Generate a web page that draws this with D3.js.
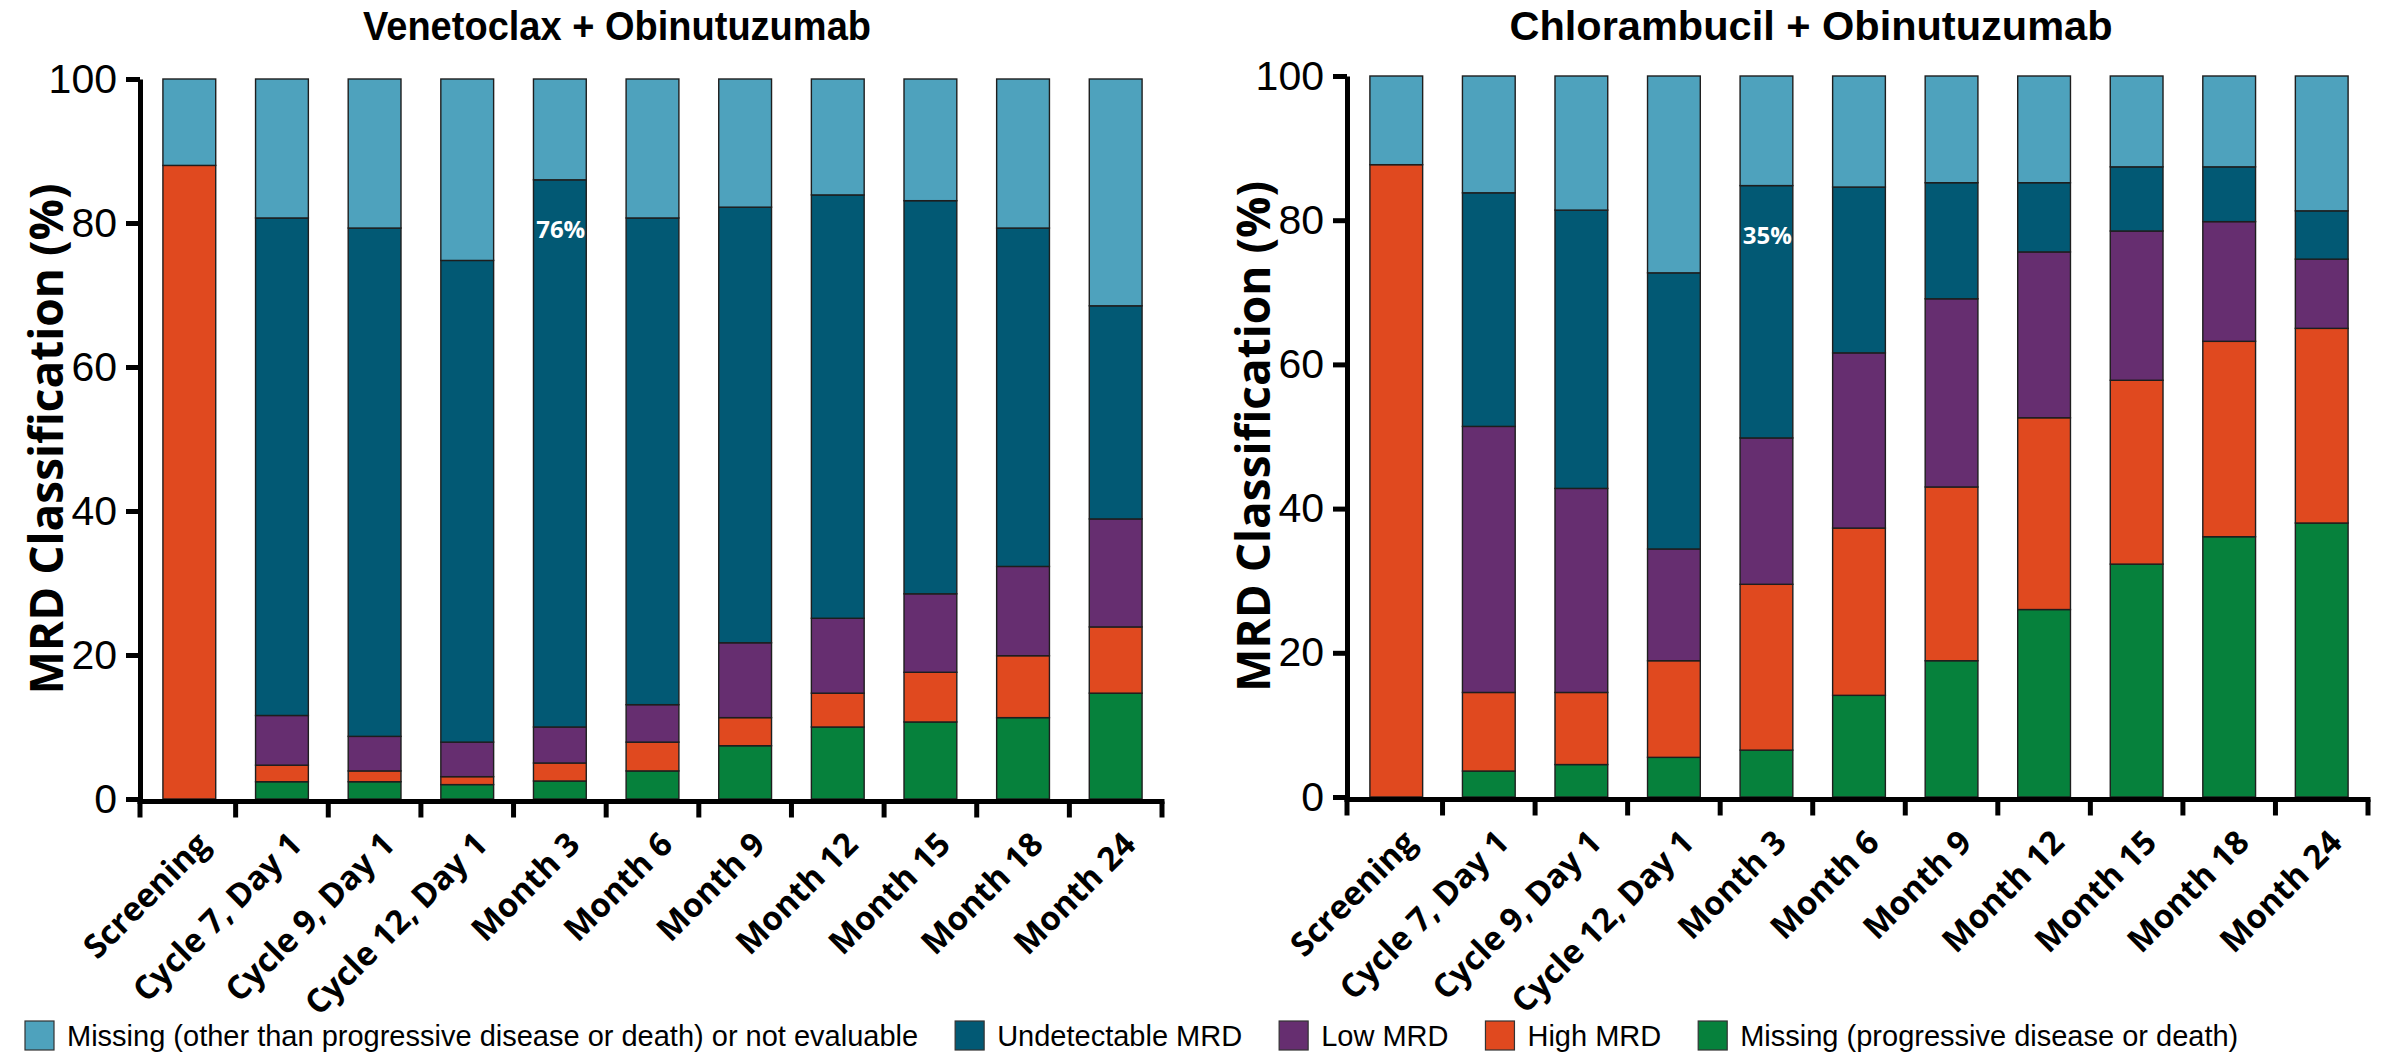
<!DOCTYPE html>
<html>
<head>
<meta charset="utf-8">
<script src="https://cdn.jsdelivr.net/npm/d3@7"></script>
<style>
  html, body { margin: 0; padding: 0; background: #ffffff; }
  svg { display: block; }
</style>
</head>
<body>
<svg id="chart" width="2387" height="1054"></svg>
<script>
// ---- data -------------------------------------------------------------
const categories = [
  "Screening", "Cycle 7, Day 1", "Cycle 9, Day 1", "Cycle 12, Day 1",
  "Month 3", "Month 6", "Month 9", "Month 12", "Month 15", "Month 18", "Month 24"
];
const yTickValues = [0, 20, 40, 60, 80, 100];

// Venetoclax + Obinutuzumab, % of patients per MRD class
const venMissingPD     = [0,    2.4,  2.4,  2.0,  2.5,  3.9,  7.4, 10.0, 10.7, 11.3, 14.7];
const venHighMRD       = [88.0, 2.3,  1.5,  1.1,  2.5,  4.0,  3.9,  4.7,  6.9,  8.6,  9.2];
const venLowMRD        = [0,    6.9,  4.8,  4.8,  5.0,  5.2, 10.4, 10.4, 10.9, 12.4, 15.0];
const venUndetectable  = [0,   69.1, 70.6, 66.9, 76.0, 67.6, 60.5, 58.8, 54.6, 47.0, 29.6];
const venMissingOther  = [12.0,19.3, 20.7, 25.2, 14.0, 19.3, 17.8, 16.1, 16.9, 20.7, 31.5];

// Chlorambucil + Obinutuzumab, % of patients per MRD class
const clbMissingPD     = [0,    3.6,  4.5,  5.5,  6.5, 14.1, 18.9, 26.0, 32.3, 36.1, 38.0];
const clbHighMRD       = [87.7,10.9, 10.0, 13.4, 23.0, 23.2, 24.1, 26.6, 25.5, 27.1, 27.0];
const clbLowMRD        = [0,   36.9, 28.3, 15.5, 20.3, 24.3, 26.1, 23.0, 20.7, 16.6,  9.6];
const clbUndetectable  = [0,   32.4, 38.6, 38.3, 35.0, 23.0, 16.1,  9.6,  8.9,  7.6,  6.7];
const clbMissingOther  = [12.3,16.2, 18.6, 27.3, 15.2, 15.4, 14.8, 14.8, 12.6, 12.6, 18.7];

// stacking order, bottom to top
const stackKeys = ["missingPD", "high", "low", "undetectable", "missingOther"];
// legend order, left to right
const legendKeys = ["missingOther", "undetectable", "low", "high", "missingPD"];
const legendLabels = {
  missingOther: "Missing (other than progressive disease or death) or not evaluable",
  undetectable: "Undetectable MRD",
  low: "Low MRD",
  high: "High MRD",
  missingPD: "Missing (progressive disease or death)"
};
const colors = {
  missingOther: "#4ea2bd",
  undetectable: "#025974",
  low: "#662e70",
  high: "#e0491f",
  missingPD: "#06813c"
};
const annotatedCategory = "Month 3";

// ---- layout -----------------------------------------------------------
const panels = [
  {
    title: "Venetoclax + Obinutuzumab",
    titleX: 617, titleWidth: 508,
    axisX: 140, xRange: [143, 1162], yRange: [799, 79], yTitleX: 46,
    series: { missingPD: venMissingPD, high: venHighMRD, low: venLowMRD,
              undetectable: venUndetectable, missingOther: venMissingOther }
  },
  {
    title: "Chlorambucil + Obinutuzumab",
    titleX: 1811, titleWidth: 603,
    axisX: 1347, xRange: [1350, 2368], yRange: [797, 76], yTitleX: 1253,
    series: { missingPD: clbMissingPD, high: clbHighMRD, low: clbLowMRD,
              undetectable: clbUndetectable, missingOther: clbMissingOther }
  }
];

const svg = d3.select("#chart");
const narrowFont = "'Liberation Sans Narrow', 'Arial Narrow', 'Liberation Sans', sans-serif";
const plainFont = "'Liberation Sans', Arial, sans-serif";
const boldFont = "'Open Sans', 'DejaVu Sans', sans-serif";

panels.forEach(p => {
  const g = svg.append("g");
  const x = d3.scaleBand().domain(categories).range(p.xRange)
    .paddingInner(0.43).paddingOuter(0.215);
  const y = d3.scaleLinear().domain([0, 100]).range(p.yRange);

  const rows = categories.map((c, i) => {
    const r = { category: c };
    stackKeys.forEach(k => { r[k] = p.series[k][i]; });
    return r;
  });
  const stacked = d3.stack().keys(stackKeys)(rows);

  // stacked bars
  g.selectAll("g.layer").data(stacked).join("g")
    .attr("class", "layer")
    .attr("fill", d => colors[d.key])
    .selectAll("rect").data(d => d.filter(s => s[1] - s[0] > 0)).join("rect")
      .attr("x", d => x(d.data.category))
      .attr("width", x.bandwidth())
      .attr("y", d => y(d[1]))
      .attr("height", d => y(d[0]) - y(d[1]))
      .attr("stroke", "#1e1e1e")
      .attr("stroke-width", 1.4);

  // value label on the undetectable segment
  const und = stacked.find(s => s.key === "undetectable");
  const seg = und.find(s => s.data.category === annotatedCategory);
  g.append("text")
    .attr("x", x(annotatedCategory) + x.bandwidth() - 1)
    .attr("y", y(seg[1]) + 58)
    .attr("text-anchor", "end")
    .attr("fill", "#ffffff")
    .style("font-family", boldFont)
    .style("font-weight", 700)
    .style("font-size", "24px")
    .text(d3.format(".0f")(seg[1] - seg[0]) + "%");

  // y axis
  const yAxis = g.append("g")
    .attr("transform", `translate(${p.axisX},0)`)
    .call(d3.axisLeft(y).tickValues(yTickValues).tickSize(14).tickSizeOuter(0).tickPadding(9));
  yAxis.select(".domain").attr("stroke", "#000").attr("stroke-width", 5);
  yAxis.selectAll(".tick line").attr("stroke", "#000").attr("stroke-width", 5);
  yAxis.selectAll(".tick text")
    .attr("fill", "#000")
    .style("font-family", plainFont)
    .style("font-size", "41px");

  // x axis: baseline, boundary ticks and rotated category labels
  const baseY = y(0) + 2.5;
  g.append("line")
    .attr("x1", p.axisX - 2.5).attr("x2", p.xRange[1] + 2.5)
    .attr("y1", baseY).attr("y2", baseY)
    .attr("stroke", "#000").attr("stroke-width", 5);
  const bounds = [p.axisX].concat(
    categories.slice(1).map(c => x(c) - x.step() * x.paddingInner() / 2),
    [p.xRange[1]]
  );
  g.selectAll("line.xtick").data(bounds).join("line")
    .attr("class", "xtick")
    .attr("x1", d => d).attr("x2", d => d)
    .attr("y1", baseY).attr("y2", baseY + 16)
    .attr("stroke", "#000").attr("stroke-width", 5);

  const xAxis = g.append("g")
    .attr("transform", `translate(0,${baseY})`)
    .call(d3.axisBottom(x).tickSize(0).tickPadding(0));
  xAxis.select(".domain").remove();
  xAxis.selectAll(".tick text")
    .attr("y", 0).attr("dy", 0)
    .attr("text-anchor", "end")
    .attr("transform", "translate(22,45) rotate(-45)")
    .attr("fill", "#000")
    .style("font-family", boldFont)
    .style("font-weight", 700)
    .style("font-size", "33px");

  // panel title
  g.append("text")
    .attr("x", p.titleX).attr("y", 40)
    .attr("text-anchor", "middle")
    .attr("textLength", p.titleWidth)
    .attr("lengthAdjust", "spacingAndGlyphs")
    .style("font-family", narrowFont)
    .style("font-weight", 700)
    .style("font-size", "41px")
    .text(p.title);

  // y axis title
  g.append("text")
    .attr("transform", `translate(${p.yTitleX},${(p.yRange[0] + p.yRange[1]) / 2}) rotate(-90)`)
    .attr("text-anchor", "middle")
    .attr("dy", "0.36em")
    .style("font-family", boldFont)
    .style("font-weight", 700)
    .style("font-size", "46px")
    .text("MRD Classification (%)");
});

// ---- legend -----------------------------------------------------------
const legend = svg.append("g").attr("transform", "translate(25,1021)");
let cursor = 0;
legendKeys.forEach(k => {
  const item = legend.append("g").attr("transform", `translate(${cursor},0)`);
  item.append("rect")
    .attr("width", 29).attr("height", 29)
    .attr("fill", colors[k])
    .attr("stroke", "#333").attr("stroke-width", 1.2);
  const t = item.append("text")
    .attr("x", 42).attr("y", 25)
    .style("font-family", plainFont)
    .style("font-size", "29px")
    .text(legendLabels[k]);
  cursor += 42 + t.node().getComputedTextLength() + 37;
});
</script>
</body>
</html>
